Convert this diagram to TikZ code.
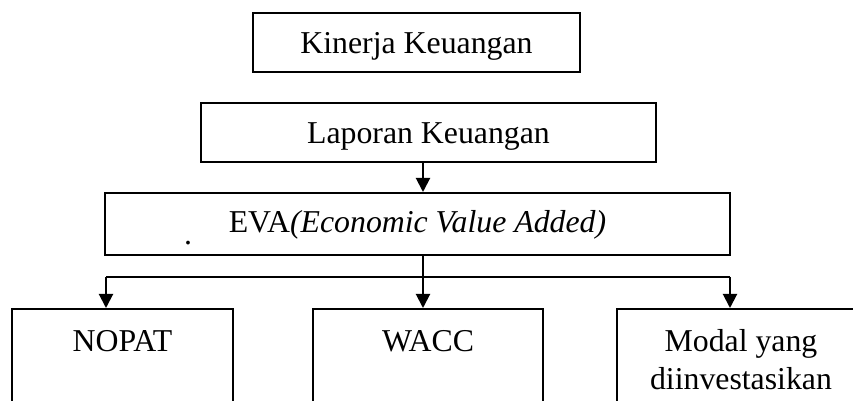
\documentclass[tikz,border=0pt]{standalone}
\usepackage{fontspec}
\setmainfont{Liberation Serif}
\usetikzlibrary{arrows.meta}

\tikzset{
  kotak/.style={draw, line width=1pt, inner sep=0pt, align=flush center,
    text height=20.5pt, text depth=9pt},
  kotakbawah/.style={kotak, text height=21pt, text depth=60pt},
  panah/.style={line width=1pt, -{Triangle[length=7pt,width=7pt]}},
  garis/.style={line width=1pt},
}

\begin{document}
\begin{tikzpicture}[x=0.5pt,y=-0.5pt,font=\fontsize{15.9}{19}\selectfont]
\useasboundingbox (0,0) rectangle (853,401);
\clip (0,0) rectangle (853,401);

\coordinate (top1) at (416.5,12);
\node[kotak, anchor=north, text width=163.5pt] (kinerja) at (top1) {Kinerja Keuangan};

\coordinate (top2) at (428.5,102);
\node[kotak, anchor=north, text width=227.5pt] (laporan) at (top2) {Laporan Keuangan};

\coordinate (top3) at (417.5,192);
\node[kotak, anchor=north, text width=312.5pt, text height=20pt, text depth=11pt] (eva) at (top3)
  {EVA\textit{(Economic Value Added)}};
\node[anchor=base, inner sep=0pt] (titik) at (188,245) {.};

\node[kotakbawah, anchor=north, text width=110.5pt] (nopat) at (122.5,308) {NOPAT};
\node[kotakbawah, anchor=north, text width=115pt] (wacc) at (428,308) {WACC};
\node[kotakbawah, anchor=north, text width=124pt] (modal) at (741,308) {Modal yang\\diinvestasikan};

% garis cabang
\coordinate (cabang) at (423,277);
\coordinate (kiri) at (106,277);
\coordinate (kanan) at (730,277);

\draw[panah] (laporan.south -| cabang) -- (eva.north -| cabang);
\draw[garis] (eva.south -| cabang) -- (cabang);
\draw[garis] (kiri) -- (kanan);
\draw[panah] (kiri) -- (kiri |- nopat.north);
\draw[panah] (cabang) -- (cabang |- wacc.north);
\draw[panah] (kanan) -- (kanan |- modal.north);

\end{tikzpicture}
\end{document}
